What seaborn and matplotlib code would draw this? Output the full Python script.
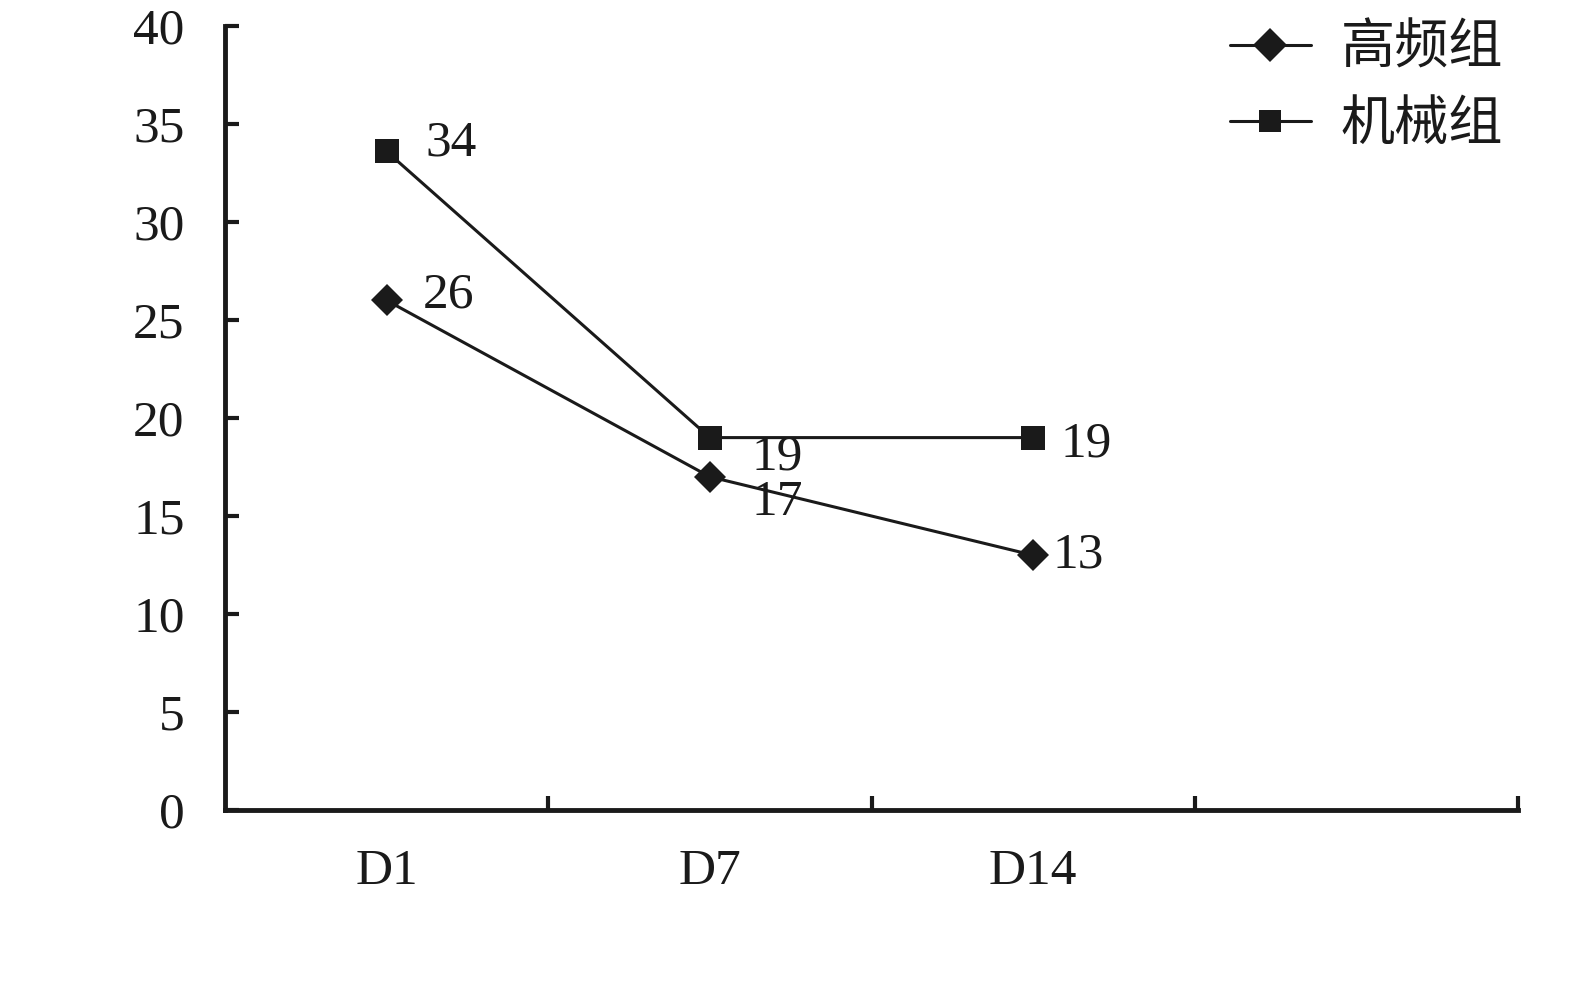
import matplotlib
matplotlib.use('Agg')
import matplotlib.pyplot as plt
import pandas as pd
import seaborn as sns
from matplotlib.lines import Line2D
from matplotlib.ticker import FixedLocator

OUTPUT_FILEPATH = 'out.png'

days = ['D1', 'D7', 'D14']
groups = ['高频组', '机械组']
high_freq = [26, 17, 13]
mechanical = [33.6, 19, 19]
high_freq_labels = ['26', '17', '13']
mechanical_labels = ['34', '19', '19']
y_ticks = [0, 5, 10, 15, 20, 25, 30, 35, 40]

# 数値ラベルのずらし量 (points)
label_offsets = {
    '高频组': [(26, 4), (30, -19), (14, 0)],
    '机械组': [(28, 6), (30, -14), (20, -5)],
}

sns.set_theme(style='white')
plt.rcParams['font.family'] = ['Liberation Serif', 'Noto Sans CJK SC']

INK = '#1a1a1a'
FS = 37


def build_df() -> pd.DataFrame:
    rows = []
    for i, d in enumerate(days):
        rows.append({'day': i, 'group': groups[0], 'value': high_freq[i]})
        rows.append({'day': i, 'group': groups[1], 'value': mechanical[i]})
    return pd.DataFrame(rows)


def main():
    df = build_df()

    fig = plt.figure(figsize=(15.75, 9.84), dpi=100)
    ax = fig.add_axes([225 / 1575, 174 / 984, (1518 - 225) / 1575, (810 - 26) / 984])

    sns.lineplot(data=df, x='day', y='value', hue='group', style='group',
                 hue_order=groups, style_order=groups,
                 palette=[INK, INK], markers={'高频组': 'D', '机械组': 's'},
                 dashes=False, linewidth=2.2, markeredgewidth=0, ax=ax, legend=False)
    for line in ax.lines:
        line.set_markersize(16 if line.get_marker() == 'D' else 17)

    # 数値ラベル
    for g, vals, labs in [(groups[0], high_freq, high_freq_labels), (groups[1], mechanical, mechanical_labels)]:
        for i, (v, lab) in enumerate(zip(vals, labs)):
            dx, dy = label_offsets[g][i]
            ax.annotate(lab, (i, v), xytext=(dx, dy), textcoords='offset points',
                        ha='left', va='center', fontsize=FS, color=INK)

    ax.set_xlim(-0.5, 3.5)
    ax.set_ylim(0, 40)
    ax.set_yticks(y_ticks)
    ax.set_yticklabels([str(t) for t in y_ticks])
    ax.set_xticks(range(len(days)))
    ax.set_xticklabels(days)
    ax.xaxis.set_minor_locator(FixedLocator([0.5, 1.5, 2.5, 3.5]))
    ax.set_xlabel('')
    ax.set_ylabel('')

    for side in ['top', 'right']:
        ax.spines[side].set_visible(False)
    for side in ['left', 'bottom']:
        ax.spines[side].set_linewidth(3.5)
        ax.spines[side].set_color(INK)

    ax.tick_params(axis='y', which='major', direction='in', length=10, width=3,
                   labelsize=FS, pad=29, colors=INK, left=True)
    ax.tick_params(axis='x', which='major', length=0, labelsize=FS, pad=28,
                   colors=INK, bottom=True)
    ax.tick_params(axis='x', which='minor', direction='in', length=10, width=3,
                   color=INK, bottom=True)

    # 凡例
    handles = [
        Line2D([], [], color=INK, lw=2.2, marker='D', markersize=17, markeredgewidth=0),
        Line2D([], [], color=INK, lw=2.2, marker='s', markersize=16, markeredgewidth=0),
    ]
    leg = fig.legend(handles, groups, loc='upper right', bbox_to_anchor=(1503 / 1575, 1 - 21 / 984),
                     frameon=False, fontsize=39, handlelength=1.5, handletextpad=0.55,
                     labelspacing=0.38, borderpad=0, borderaxespad=0)
    for t in leg.get_texts():
        t.set_color(INK)
        t.set_family(['Noto Sans CJK SC', 'Liberation Serif'])

    fig.savefig(OUTPUT_FILEPATH, dpi=100, facecolor='white')


if __name__ == '__main__':
    main()
